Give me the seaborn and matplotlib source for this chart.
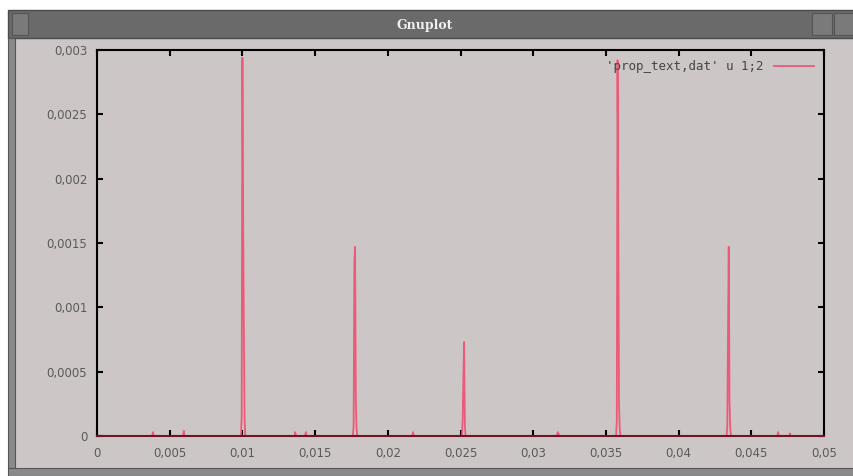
import numpy as np
import pandas as pd
import matplotlib
matplotlib.use("Agg")
import matplotlib.pyplot as plt
import seaborn as sns
from matplotlib.patches import Rectangle
from matplotlib.ticker import FuncFormatter

# spectrum samples (frequency, amplitude)
freq = [0.0, 0.0038, 0.00385, 0.0039, 0.0059, 0.00598, 0.0060,
        0.0099, 0.00995, 0.0100, 0.01005, 0.0101, 0.01015, 0.0102,
        0.0136, 0.01362, 0.0137, 0.0143, 0.01437, 0.0144,
        0.0176, 0.01765, 0.0177, 0.01775, 0.0178, 0.01785, 0.0179,
        0.0217, 0.02173, 0.0218,
        0.0251, 0.02515, 0.0252, 0.02525, 0.0253, 0.02535,
        0.0316, 0.0317, 0.0318,
        0.0357, 0.03575, 0.0358, 0.03585, 0.0359, 0.03595, 0.0360,
        0.0433, 0.04335, 0.0434, 0.04345, 0.0435, 0.04355, 0.0436,
        0.0468, 0.04684, 0.0469, 0.0476, 0.04766, 0.0477, 0.05]
amp = [0.0, 0.0, 0.00003, 0.0, 0.0, 0.00004, 0.0,
       0.0, 0.00015, 0.00294, 0.00172, 0.00082, 0.00012, 0.0,
       0.0, 0.00003, 0.0, 0.0, 0.00003, 0.0,
       0.0, 0.00008, 0.00135, 0.00147, 0.00028, 0.00006, 0.0,
       0.0, 0.00003, 0.0,
       0.0, 0.00013, 0.00047, 0.00073, 0.00008, 0.0,
       0.0, 0.00003, 0.0,
       0.0, 0.00012, 0.00292, 0.0018, 0.00026, 0.00006, 0.0,
       0.0, 0.00008, 0.00085, 0.00147, 0.00027, 0.00006, 0.0,
       0.0, 0.00003, 0.0, 0.0, 0.00002, 0.0, 0.0]

x_ticks = [0, 0.005, 0.01, 0.015, 0.02, 0.025, 0.03, 0.035, 0.04, 0.045, 0.05]
y_ticks = [0, 0.0005, 0.001, 0.0015, 0.002, 0.0025, 0.003]

data = pd.DataFrame({"freq": freq, "amp": amp})

bg = "#ccc6c6"
line_col = "#ec5a78"

fig = plt.figure(figsize=(8.54, 4.76), dpi=100, facecolor="white")

# window chrome
fig.patches.append(Rectangle((8 / 854, 8 / 476), 1, 430 / 476, transform=fig.transFigure,
                             facecolor=bg, edgecolor="none", zorder=-3))
fig.patches.append(Rectangle((8 / 854, 438 / 476), 1, 28 / 476, transform=fig.transFigure,
                             facecolor="#6a6a6a", edgecolor="#4a4a4a", lw=1, zorder=-2))
fig.patches.append(Rectangle((12 / 854, 441 / 476), 16 / 854, 22 / 476, transform=fig.transFigure,
                             facecolor="#7a7a7a", edgecolor="#555555", lw=0.8, zorder=-1))
fig.patches.append(Rectangle((812 / 854, 441 / 476), 20 / 854, 22 / 476, transform=fig.transFigure,
                             facecolor="#7a7a7a", edgecolor="#555555", lw=0.8, zorder=-1))
fig.patches.append(Rectangle((834 / 854, 441 / 476), 20 / 854, 22 / 476, transform=fig.transFigure,
                             facecolor="#7a7a7a", edgecolor="#555555", lw=0.8, zorder=-1))
fig.patches.append(Rectangle((8 / 854, 8 / 476), 7 / 854, 430 / 476, transform=fig.transFigure,
                             facecolor="#8a8a8a", edgecolor="#555555", lw=0.8, zorder=-2))
fig.patches.append(Rectangle((8 / 854, 0), 1, 8 / 476, transform=fig.transFigure,
                             facecolor="#8a8a8a", edgecolor="#555555", lw=0.8, zorder=-2))
fig.text(425 / 854, 451 / 476, "Gnuplot", color="#f0f0f0", fontsize=9, fontweight="bold",
         family="DejaVu Serif", ha="center", va="center")

ax = fig.add_axes([97 / 854, 40 / 476, 727 / 854, 386 / 476])
ax.set_zorder(5)
ax.set_facecolor(bg)

sns.lineplot(data=data, x="freq", y="amp", ax=ax, color=line_col, lw=1.3,
             label="'prop_text,dat' u 1;2", zorder=2)

ax.set_xlim(0, 0.05)
ax.set_ylim(0, 0.003)
ax.set_xticks(x_ticks)
ax.set_yticks(y_ticks)

fmt = FuncFormatter(lambda v, p: "0" if v == 0 else ("%g" % v).replace(".", ","))
ax.xaxis.set_major_formatter(fmt)
ax.yaxis.set_major_formatter(fmt)
ax.tick_params(direction="in", length=4, width=1.5, top=True, right=True,
               labelsize=8.5, labelcolor="#5a5a5a", color="black")
ax.tick_params(axis="x", pad=8)
ax.tick_params(axis="y", pad=7)
for s in ax.spines.values():
    s.set_color("black")
    s.set_linewidth(1.5)
ax.spines["bottom"].set_color("#6e1424")
ax.set_xlabel("")
ax.set_ylabel("")

leg = ax.legend(loc="upper right", frameon=False, markerfirst=False, handlelength=3.2,
                prop={"family": "DejaVu Sans Mono", "size": 9}, borderaxespad=0.4)
for t in leg.get_texts():
    t.set_color("#444444")

fig.savefig("out.png", dpi=100, facecolor=fig.get_facecolor())
